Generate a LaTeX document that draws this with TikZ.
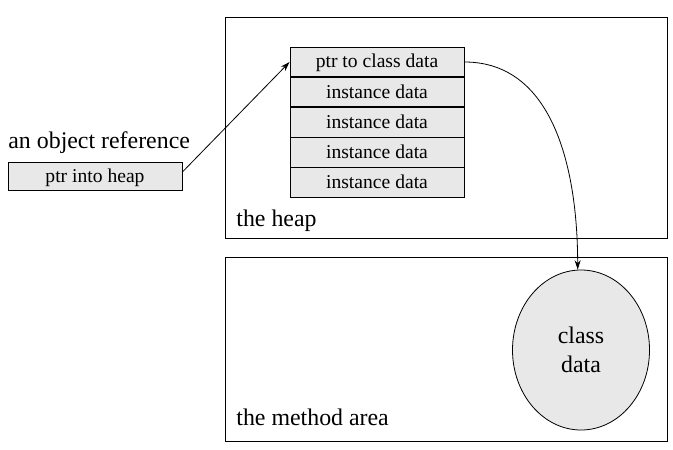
\documentclass[tikz,border=0pt]{standalone}
\usepackage{fontspec}
\setmainfont{Liberation Serif}
\usetikzlibrary{positioning,shapes.geometric,arrows.meta}
\definecolor{cellgray}{RGB}{232,232,232}
\begin{document}
\begin{tikzpicture}[x=0.75pt,y=-0.75pt,every path/.style={line width=0.6pt},
  cell/.style={draw,fill=cellgray,minimum width=130.5pt,minimum height=22pt,inner sep=0pt,text height=11pt,text depth=2pt,font=\fontsize{14.7}{17}\selectfont},
  area/.style={draw,inner sep=0pt},
  big/.style={font=\fontsize{17.9}{21.75}\selectfont}]
\useasboundingbox (0,0) rectangle (673,449);
% the two areas
\node[area,minimum width=331.5pt,minimum height=165.75pt] (heap) at (446,127.75) {};
\node[area,minimum width=331.5pt,minimum height=138pt] (method) at (446,349.5) {};
\node[big,anchor=base west,inner sep=0pt] (heaplabel) at (236,226.5) {the heap};
\node[big,anchor=base west,inner sep=0pt] (methodlabel) at (236,425) {the method area};
% the object
\node[cell] (r0) at (377,62) {ptr to class data};
\node[cell,below=0pt of r0] (r1) {instance data};
\node[cell,below=0pt of r1] (r2) {instance data};
\node[cell,below=0pt of r2] (r3) {instance data};
\node[cell,below=0pt of r3] (r4) {instance data};
% the reference
\node[cell,minimum height=21pt] (ptr) at (95,176) {ptr into heap};
\node[big,anchor=base west,inner sep=0pt] (reflabel) at (8,148) {an object reference};
% class data
\node[ellipse,draw,fill=cellgray,minimum width=102.75pt,minimum height=120pt,inner sep=0pt,align=center,big] (cls) at (581,350) {class\\data};
\draw[-{Stealth[length=7pt,width=4.5pt]}] ([yshift=3pt]ptr.east) -- (r0.west);
\draw[-{Stealth[length=7pt,width=4.5pt]}] (r0.east) to[out=0,in=90] ([xshift=-2.5pt]cls.north);
\end{tikzpicture}
\end{document}
